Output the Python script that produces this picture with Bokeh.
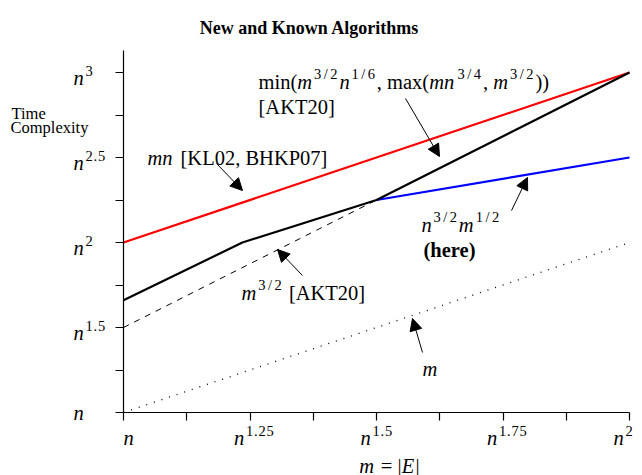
from bokeh.plotting import figure
from bokeh.models import Range1d, FixedTicker, Label, Arrow, NormalHead
from bokeh.embed import file_html
from bokeh.resources import INLINE

# ---------------- data (exponents of n: m = n^x, time = n^y) ----------------
x_ticks = [1.0, 1.25, 1.5, 1.75, 2.0]
x_tick_exps = ["", "1.25", "1.5", "1.75", "2"]
x_minor = [1.125, 1.375, 1.625, 1.875]
y_ticks = [1.0, 1.5, 2.0, 2.5, 3.0]
y_tick_exps = ["", "1.5", "2", "2.5", "3"]
y_minor = [1.25, 1.75, 2.25, 2.75]
x_bounds = (1.0, 2.0)
y_bounds = (1.0, 3.13)

mn_x = [1.0, 2.0]                    # mn [KL02, BHKP07]
mn_y = [2.0, 3.0]
akt_x = [1.0, 1.235, 1.5, 2.0]       # min(...) [AKT20]
akt_y = [1.66, 2.0, 2.25, 3.0]
here_x = [1.5, 2.0]                  # n^{3/2} m^{1/2} (here)
here_y = [2.25, 2.5]
m32_x = [1.0, 1.5]                   # m^{3/2} [AKT20]
m32_y = [1.5, 2.25]
m_x = [1.0, 2.0]                     # m
m_y = [1.0, 2.0]

FONT = "Liberation Serif"
MAIN = 20.5
SUP = 14.5

# Times-compatible advance widths (per 1000 em)
REG = {' ': 250, '(': 333, ')': 333, ',': 250, '.': 250, '/': 278, '=': 564,
       '[': 333, ']': 333, '|': 200, 'A': 722, 'B': 667, 'E': 611, 'H': 722,
       'K': 722, 'L': 611, 'P': 556, 'T': 611, 'a': 444, 'e': 444, 'h': 500,
       'i': 278, 'm': 778, 'n': 500, 'r': 333, 'x': 500, 'C': 667, 'o': 500,
       'p': 500, 'l': 278, 't': 278, 'y': 500}
IT = {'m': 800, 'n': 560, 'E': 680, ' ': 250}          # math italic, a bit wider
BOLD = {'(': 333, ')': 333, 'h': 556, 'e': 444, 'r': 444}
SUPW = {'/': 560, '.': 300}                            # superscript cells (digits 560)


def px2x(px):
    return 1 + (px - 123) / 506.0


def px2y(py):
    return 1 + (412 - py) / 170.0


p = figure(width=642, height=475,
           x_range=Range1d(px2x(0), px2x(642)), y_range=Range1d(px2y(475), px2y(0)),
           min_border=0, min_border_left=0, min_border_right=0, min_border_top=0,
           min_border_bottom=0, toolbar_location=None, output_backend="svg")
p.outline_line_color = None
p.xgrid.visible = False
p.ygrid.visible = False
p.background_fill_color = "white"
p.border_fill_color = "white"

for ax, ticks, bounds in ((p.xaxis, x_ticks + x_minor, x_bounds),
                          (p.yaxis, y_ticks + y_minor, y_bounds)):
    ax.fixed_location = 1.0
    ax.bounds = bounds
    ax.ticker = FixedTicker(ticks=sorted(ticks))
    ax.major_label_text_color = None
    ax.major_tick_in = 0
    ax.major_tick_out = 8
    ax.minor_tick_line_color = None
    ax.axis_line_color = "black"
    ax.major_tick_line_color = "black"
    ax.axis_line_width = 1.2
    ax.major_tick_line_width = 1.2

p.line(m_x, m_y, line_color="black", line_width=1.3, line_dash="1 7")
p.line(m32_x, m32_y, line_color="black", line_width=1, line_dash="6 6")
p.line(mn_x, mn_y, line_color="#ff0000", line_width=2.2)
p.line(here_x, here_y, line_color="#0000ff", line_width=2.2)
p.line(akt_x, akt_y, line_color="black", line_width=2.2)


def _lab(x, y, xo, yo, text, style, size):
    p.add_layout(Label(x=x, y=y, x_offset=xo, y_offset=yo, text=text,
                       text_font=FONT, text_font_style=style,
                       text_font_size=f"{size}px", text_baseline="alphabetic",
                       text_align="left", text_color="black"))


def run_width(text, style, size):
    if style == "sup":
        return sum(SUPW.get(c, 560) for c in text) / 1000.0 * size + 1.5
    tab = IT if style == "italic" else BOLD if style == "bold" else REG
    return sum(tab.get(c, REG.get(c, 500)) for c in text) / 1000.0 * size


def runs(x, y, items, x_off=0.0, y_off=0.0, center=False):
    off = x_off
    if center:
        off -= sum(run_width(t, s, z) for t, s, z, r in items) / 2.0
    for text, style, size, rise in items:
        if not text:
            continue
        if style == "sup":
            for c in text:
                cell = SUPW.get(c, 560) / 1000.0 * size
                act = REG.get(c, 500) / 1000.0 * size
                _lab(x, y, off + (cell - act) / 2.0, y_off + rise, c, "normal", size)
                off += cell
            off += 1.5
            continue
        lead = len(text) - len(text.lstrip())
        off += run_width(text[:lead], style, size)
        body = text.strip()
        if body:
            _lab(x, y, off, y_off + rise, body, style, size)
        off += run_width(text[lead:], style, size)


N = "normal"
I = "italic"
B = "bold"
S = "sup"

# tick labels
for xv, e in zip(x_ticks, x_tick_exps):
    xo = 0 if e == "" else -16
    runs(xv, 1.0, [("n", I, MAIN, 0), (e, S, SUP, 7)], x_off=xo, y_off=-25)
for yv, e in zip(y_ticks, y_tick_exps):
    yo = 0 if e == "" else -5
    runs(1.0, yv, [("n", I, MAIN, 0), (e, S, SUP, 7)], x_off=-50, y_off=yo)

# title
p.add_layout(Label(x=px2x(309), y=px2y(27), text="New and Known Algorithms",
                   text_font=FONT, text_font_style="bold", text_font_size="18px",
                   text_align="center", text_baseline="alphabetic", text_color="black"))
# axis titles
runs(px2x(11), px2y(113), [("Time", N, 16.5, 0)])
runs(px2x(10), px2y(127), [("Complexity", N, 16.5, 0)])
runs(px2x(389), px2y(465), [("m", I, MAIN, 0), (" =", N, MAIN, 0), (" |", N, MAIN, 0),
                            ("E", I, MAIN, 0), ("|", N, MAIN, 0)], center=True)

# annotations
runs(px2x(258), px2y(81), [("min(", N, MAIN, 0), ("m", I, MAIN, 0), ("3/2", S, SUP, 8),
                           ("n", I, MAIN, 0), ("1/6", S, SUP, 8), (",", N, MAIN, 0),
                           (" max(", N, MAIN, 0),
                           ("mn", I, MAIN, 0), ("3/4", S, SUP, 8), (",", N, MAIN, 0),
                           (" ", N, MAIN, 0),
                           ("m", I, MAIN, 0), ("3/2", S, SUP, 8), ("))", N, MAIN, 0)])
runs(px2x(258), px2y(106), [("[AKT20]", N, MAIN, 0)])
runs(px2x(147), px2y(157), [("mn", I, MAIN, 0), (" [KL02, BHKP07]", N, MAIN, 0)])
runs(px2x(241), px2y(292), [("m", I, MAIN, 0), ("3/2", S, SUP, 8), (" [AKT20]", N, MAIN, 0)])
runs(px2x(421), px2y(224), [("n", I, MAIN, 0), ("3/2", S, SUP, 8), ("m", I, MAIN, 0),
                            ("1/2", S, SUP, 8)])
runs(px2x(423), px2y(249), [("(here)", B, MAIN, 0)])
runs(px2x(422), px2y(368), [("m", I, MAIN, 0)])

arrows = [((405, 98), (439, 156)), ((216, 163), (242, 190)), ((302, 275), (277, 249)),
          ((511, 210), (527, 177)), ((422, 352), (412, 318))]
for (sx, sy), (ex, ey) in arrows:
    p.add_layout(Arrow(x_start=px2x(sx), y_start=px2y(sy), x_end=px2x(ex), y_end=px2y(ey),
                       line_width=1, line_color="black",
                       end=NormalHead(size=12, fill_color="black", line_color="black")))

open("out.html", "w").write(file_html(p, INLINE))
